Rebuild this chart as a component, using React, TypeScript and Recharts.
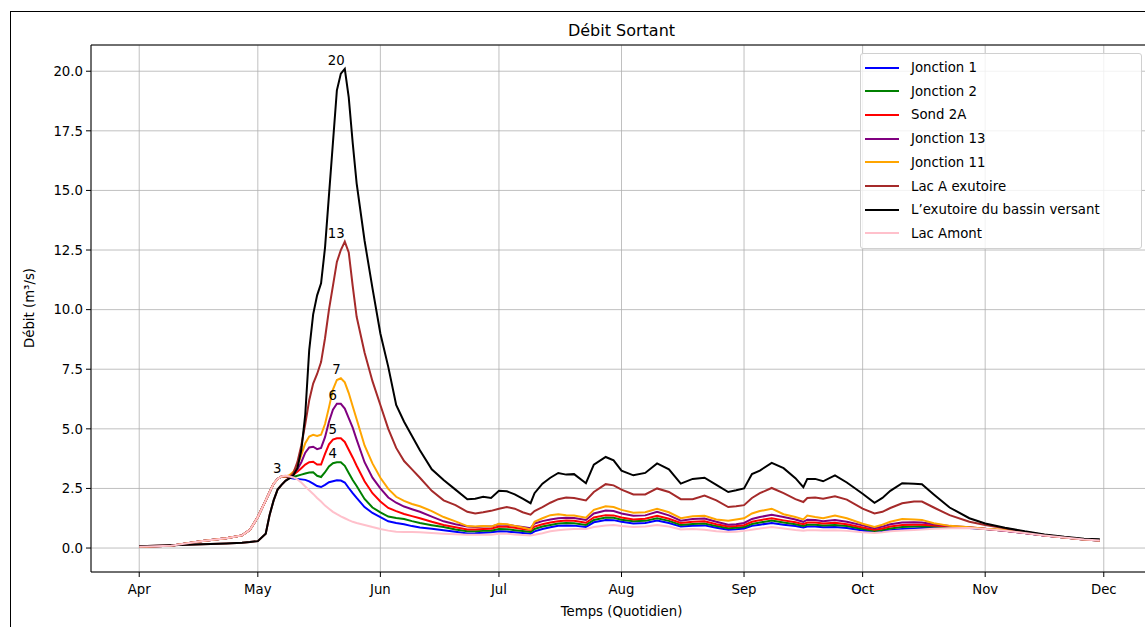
import React from 'react';
import {
  LineChart,
  Line,
  XAxis,
  YAxis,
  CartesianGrid,
  ReferenceLine,
} from 'recharts';

// day index counted from 1 April
const days = [
  0, 8, 16, 22, 26, 28, 30, 32, 33, 34,
  35, 36, 37, 38, 39, 40, 41, 42, 43, 44,
  45, 46, 47, 48, 49, 50, 51, 52, 53, 54,
  55, 57, 59, 61, 63, 65, 67, 69, 71, 74,
  77, 80, 83, 85, 87, 89, 91, 93, 95, 97,
  99, 100, 102, 104, 106, 108, 110, 113, 115, 118,
  120, 122, 125, 128, 131, 134, 137, 140, 143, 146,
  149, 151, 153, 155, 157, 160, 163, 166, 168, 169,
  171, 173, 176, 179, 183, 186, 188, 190, 193, 196,
  198, 201, 205, 210, 214, 219, 224, 229, 234, 239, 243,
];

const jonction1 = [
  0.05, 0.1, 0.3, 0.41, 0.53, 0.76, 1.3, 2.0, 2.35, 2.7,
  2.9, 3.0, 3.0, 2.95, 2.92, 2.9, 2.88, 2.86, 2.8, 2.7,
  2.6, 2.56, 2.65, 2.76, 2.8, 2.84, 2.83, 2.75, 2.52, 2.3,
  2.1, 1.72, 1.47, 1.3, 1.12, 1.05, 1.0, 0.92, 0.86, 0.81,
  0.75, 0.68, 0.61, 0.62, 0.64, 0.66, 0.7, 0.69, 0.66, 0.63,
  0.6, 0.7, 0.8, 0.87, 0.93, 0.95, 0.94, 0.88, 1.08, 1.18,
  1.17, 1.1, 1.03, 1.05, 1.15, 1.05, 0.9, 0.93, 0.95, 0.85,
  0.77, 0.79, 0.82, 0.93, 0.98, 1.05, 0.98, 0.92, 0.86, 0.9,
  0.9, 0.87, 0.88, 0.84, 0.74, 0.67, 0.7, 0.75, 0.8, 0.82,
  0.84, 0.86, 0.85, 0.84, 0.8, 0.73, 0.63, 0.53, 0.44, 0.36, 0.32,
];

const jonction2 = [
  0.05, 0.1, 0.3, 0.41, 0.53, 0.76, 1.3, 2.0, 2.35, 2.7,
  2.9, 3.0, 3.0, 2.97, 2.98, 3.03, 3.08, 3.13, 3.17, 3.18,
  3.03, 2.98, 3.18, 3.42, 3.56, 3.6, 3.6, 3.45, 3.15, 2.85,
  2.6, 2.06, 1.7, 1.5, 1.32, 1.26, 1.22, 1.13, 1.05, 0.96,
  0.88, 0.78, 0.7, 0.7, 0.72, 0.73, 0.8, 0.79, 0.75, 0.71,
  0.67, 0.8, 0.9, 0.97, 1.03, 1.05, 1.04, 0.97, 1.18, 1.28,
  1.27, 1.19, 1.12, 1.14, 1.25, 1.14, 0.97, 1.01, 1.03, 0.92,
  0.83, 0.85, 0.88, 1.01, 1.07, 1.15, 1.07, 1.0, 0.93, 0.98,
  0.98, 0.95, 0.97, 0.92, 0.8, 0.72, 0.76, 0.82, 0.88, 0.9,
  0.91, 0.9, 0.87, 0.85, 0.8, 0.73, 0.63, 0.53, 0.44, 0.36, 0.32,
];

const sond2A = [
  0.05, 0.1, 0.3, 0.41, 0.53, 0.76, 1.3, 2.0, 2.35, 2.7,
  2.9, 3.0, 3.0, 3.0, 3.08, 3.2, 3.35, 3.5, 3.6, 3.62,
  3.5, 3.5, 3.95, 4.35, 4.55, 4.6, 4.6, 4.45, 4.12, 3.8,
  3.45, 2.8, 2.3, 1.95, 1.68, 1.55, 1.43, 1.34, 1.25, 1.1,
  0.97, 0.87, 0.78, 0.78, 0.8, 0.81, 0.9, 0.89, 0.85, 0.8,
  0.76, 0.9, 1.0, 1.07, 1.12, 1.15, 1.14, 1.06, 1.28, 1.38,
  1.37, 1.28, 1.2, 1.23, 1.35, 1.23, 1.05, 1.1, 1.12, 1.0,
  0.9, 0.92, 0.96, 1.1, 1.17, 1.25, 1.16, 1.08, 1.0, 1.07,
  1.07, 1.03, 1.06, 1.0, 0.86, 0.77, 0.82, 0.9, 0.97, 0.98,
  0.98, 0.95, 0.9, 0.86, 0.8, 0.73, 0.63, 0.53, 0.44, 0.36, 0.32,
];

const jonction13 = [
  0.05, 0.1, 0.3, 0.41, 0.53, 0.76, 1.3, 2.0, 2.35, 2.7,
  2.9, 3.0, 3.0, 3.02, 3.15, 3.3, 3.6, 4.0, 4.22, 4.25,
  4.15, 4.2, 4.65, 5.3, 5.8, 6.05, 6.05, 5.85, 5.45, 5.05,
  4.55, 3.6, 2.95, 2.5, 2.12, 1.9, 1.74, 1.63, 1.52, 1.32,
  1.12, 1.0, 0.9, 0.88, 0.9, 0.9, 1.0, 0.98, 0.93, 0.88,
  0.83, 1.03, 1.13, 1.2, 1.25, 1.27, 1.26, 1.18, 1.45, 1.57,
  1.55, 1.45, 1.35, 1.37, 1.52, 1.37, 1.15, 1.22, 1.24, 1.1,
  0.98, 1.0, 1.05, 1.22, 1.3, 1.4, 1.3, 1.2, 1.1, 1.19,
  1.18, 1.12, 1.18, 1.1, 0.95, 0.83, 0.9, 1.0, 1.07, 1.08,
  1.07, 1.0, 0.92, 0.87, 0.81, 0.73, 0.63, 0.53, 0.44, 0.36, 0.32,
];

const jonction11 = [
  0.05, 0.1, 0.3, 0.41, 0.53, 0.76, 1.3, 2.0, 2.35, 2.7,
  2.9, 3.0, 3.0, 3.05, 3.2, 3.45, 3.9, 4.4, 4.68, 4.75,
  4.7, 4.75, 5.2, 5.9, 6.65, 7.05, 7.12, 6.95, 6.5, 5.95,
  5.4, 4.3, 3.55, 2.95, 2.48, 2.15, 1.98, 1.85, 1.75, 1.55,
  1.3, 1.12, 0.92, 0.9, 0.92, 0.9, 1.02, 1.0, 0.93, 0.86,
  0.78, 1.1, 1.25, 1.38, 1.42, 1.38, 1.36, 1.27, 1.6, 1.75,
  1.72, 1.6, 1.48, 1.5, 1.65, 1.5, 1.25, 1.33, 1.35, 1.2,
  1.15, 1.2, 1.25, 1.45, 1.55, 1.65, 1.42, 1.3, 1.2, 1.36,
  1.3, 1.25, 1.36, 1.25, 1.02, 0.88, 0.98, 1.1, 1.22, 1.2,
  1.18, 1.04, 0.93, 0.87, 0.81, 0.77, 0.65, 0.54, 0.44, 0.36, 0.32,
];

const lacAExutoire = [
  0.07, 0.12, 0.16, 0.19, 0.22, 0.25, 0.29, 0.6, 1.4, 2.0,
  2.45, 2.65, 2.82, 2.95, 3.15, 3.6, 4.3, 5.2, 6.2, 6.9,
  7.3, 7.8, 8.8, 10.0, 11.0, 12.0, 12.5, 12.85, 12.4, 11.0,
  9.7, 8.2, 7.0, 6.0, 5.0, 4.2, 3.65, 3.3, 2.95, 2.4,
  2.0, 1.8, 1.52, 1.45, 1.5, 1.56, 1.65, 1.72, 1.65, 1.5,
  1.4, 1.55, 1.72, 1.9, 2.05, 2.12, 2.1, 2.0, 2.35, 2.68,
  2.63, 2.45, 2.25, 2.25, 2.5, 2.35, 2.05, 2.05, 2.2, 2.0,
  1.72, 1.75, 1.8, 2.1, 2.3, 2.52, 2.3, 2.05, 1.93, 2.1,
  2.12, 2.07, 2.17, 2.03, 1.65, 1.45, 1.52, 1.68, 1.88, 1.95,
  1.95, 1.7, 1.38, 1.1, 0.97, 0.83, 0.68, 0.55, 0.45, 0.37, 0.34,
];

const exutoireBassin = [
  0.07, 0.12, 0.16, 0.19, 0.22, 0.25, 0.29, 0.6, 1.4, 2.0,
  2.45, 2.65, 2.82, 2.92, 3.05, 3.35, 4.1, 5.6, 8.3, 9.8,
  10.6, 11.1, 12.6, 14.8, 17.0, 19.2, 19.9, 20.1, 18.9, 17.0,
  15.3, 12.9, 10.9, 9.0, 7.6, 6.0, 5.3, 4.7, 4.1, 3.3,
  2.85, 2.45, 2.05, 2.07, 2.15, 2.1, 2.4, 2.38, 2.25, 2.07,
  1.88, 2.3, 2.7, 2.95, 3.15, 3.08, 3.1, 2.72, 3.5, 3.82,
  3.68, 3.25, 3.05, 3.15, 3.55, 3.3, 2.7, 2.9, 2.95, 2.65,
  2.35, 2.42, 2.5, 3.1, 3.25, 3.57, 3.35, 2.93, 2.55, 2.9,
  2.9, 2.8, 3.05, 2.75, 2.28, 1.9, 2.1, 2.4, 2.72, 2.7,
  2.68, 2.25, 1.7, 1.25, 1.03, 0.85, 0.7, 0.57, 0.47, 0.39, 0.37,
];

const lacAmont = [
  0.05, 0.1, 0.3, 0.41, 0.53, 0.76, 1.3, 2.0, 2.35, 2.7,
  2.9, 3.0, 3.04, 3.0, 2.96, 2.88, 2.75, 2.58, 2.42, 2.27,
  2.1, 1.95, 1.78, 1.65, 1.52, 1.42, 1.33, 1.25, 1.17, 1.1,
  1.05, 0.97, 0.88, 0.8, 0.73, 0.68, 0.67, 0.67, 0.66, 0.63,
  0.6, 0.58, 0.56, 0.56, 0.56, 0.56, 0.6, 0.6, 0.57, 0.55,
  0.53, 0.56, 0.62, 0.7, 0.75, 0.78, 0.8, 0.8, 0.88, 0.95,
  0.97, 0.92, 0.88, 0.9, 0.97, 0.9, 0.78, 0.8, 0.77, 0.7,
  0.67, 0.68, 0.72, 0.77, 0.82, 0.88, 0.82, 0.76, 0.73, 0.75,
  0.75, 0.74, 0.75, 0.72, 0.66, 0.63, 0.66, 0.7, 0.74, 0.76,
  0.78, 0.81, 0.83, 0.84, 0.8, 0.73, 0.63, 0.53, 0.44, 0.36, 0.32,
];

const monthTicks = [0, 30, 61, 91, 122, 153, 183, 214, 244];
const monthLabels = ['Apr', 'May', 'Jun', 'Jul', 'Aug', 'Sep', 'Oct', 'Nov', 'Dec'];
const yTicks = [0, 2.5, 5, 7.5, 10, 12.5, 15, 17.5, 20];

const series = [
  { key: 'j1', name: 'Jonction 1', color: '#0000ff', values: jonction1, peak: true },
  { key: 'j2', name: 'Jonction 2', color: '#008000', values: jonction2, peak: true },
  { key: 's2a', name: 'Sond 2A', color: '#ff0000', values: sond2A, peak: true },
  { key: 'j13', name: 'Jonction 13', color: '#800080', values: jonction13, peak: true },
  { key: 'j11', name: 'Jonction 11', color: '#ffa500', values: jonction11, peak: true },
  { key: 'lacA', name: 'Lac A exutoire', color: '#a52a2a', values: lacAExutoire, peak: true },
  { key: 'bv', name: 'L\u2019exutoire du bassin versant', color: '#000000', values: exutoireBassin, peak: true },
  { key: 'amont', name: 'Lac Amont', color: '#ffc0cb', values: lacAmont, peak: false },
];

const data = days.map((d, i) => {
  const row: Record<string, number> = { day: d };
  series.forEach((s) => {
    row[s.key] = s.values[i];
  });
  return row;
});

const FONT = '"DejaVu Sans", sans-serif';
const X_MIN = -12.2;
const X_MAX = 256.2;
const Y_MIN = -1.005;
const Y_MAX = 21.1;

function peakIndex(vals: number[]) {
  let k = 0;
  vals.forEach((v, i) => {
    if (v > vals[k]) k = i;
  });
  return k;
}

function peakLabel(vals: number[]) {
  const k = peakIndex(vals);
  return (props: any) => {
    if (props.index !== k) return null;
    const x = props.viewBox?.x ?? props.x;
    const y = props.viewBox?.y ?? props.y;
    return (
      <text
        key={`peak-${k}`}
        x={x}
        y={y - 4}
        textAnchor="end"
        fontSize={13.3}
        fontFamily={FONT}
        fill="#000"
      >
        {Math.round(vals[k])}
      </text>
    );
  };
}

function ChartLegend() {
  return (
    <div
      style={{
        position: 'absolute',
        left: 860,
        top: 53,
        width: 280,
        height: 194,
        border: '1px solid #d0d0d0',
        borderRadius: 3,
        background: 'rgba(255,255,255,0.8)',
        fontFamily: FONT,
        fontSize: 13.3,
        color: '#000',
      }}
    >
      {series.map((s, i) => (
        <div
          key={s.key}
          style={{
            position: 'absolute',
            left: 4,
            top: 2 + i * 23.7,
            height: 23,
            display: 'flex',
            alignItems: 'center',
            whiteSpace: 'nowrap',
          }}
        >
          <span
            style={{
              display: 'inline-block',
              width: 34,
              height: 2,
              background: s.color,
              marginRight: 12,
            }}
          />
          <span>{s.name}</span>
        </div>
      ))}
    </div>
  );
}

export default function App() {
  return (
    <div
      style={{
        position: 'fixed',
        left: 0,
        top: 0,
        width: 1145,
        height: 627,
        overflow: 'hidden',
        background: '#fff',
        fontFamily: FONT,
      }}
    >
      <div
        style={{
          position: 'absolute',
          left: 10,
          top: 11,
          width: 1300,
          height: 800,
          border: '1px solid #000',
        }}
      />
      <div style={{ position: 'absolute', left: 0, top: 0 }}>
        <LineChart
          width={1160}
          height={627}
          data={data}
          margin={{ top: 45, right: 8, left: 41, bottom: 25 }}
        >
          <CartesianGrid stroke="#b0b0b0" strokeWidth={0.8} />
          <XAxis
            dataKey="day"
            type="number"
            domain={[X_MIN, X_MAX]}
            ticks={monthTicks}
            tickFormatter={(v: number) => monthLabels[monthTicks.indexOf(v)] ?? ''}
            allowDataOverflow
            height={30}
            tickSize={5}
            tickMargin={8}
            axisLine={{ stroke: '#000', strokeWidth: 1 }}
            tickLine={{ stroke: '#000' }}
            tick={{ fill: '#000', fontSize: 13.3, fontFamily: FONT }}
          />
          <YAxis
            type="number"
            domain={[Y_MIN, Y_MAX]}
            ticks={yTicks}
            tickFormatter={(v: number) => v.toFixed(1)}
            allowDataOverflow
            width={50}
            tickSize={5}
            tickMargin={3}
            axisLine={{ stroke: '#000', strokeWidth: 1 }}
            tickLine={{ stroke: '#000' }}
            tick={{ fill: '#000', fontSize: 13.3, fontFamily: FONT }}
          />
          <ReferenceLine y={Y_MAX} stroke="#000" strokeWidth={1} ifOverflow="visible" />
          {series.map((s) => (
            <Line
              key={s.key}
              type="linear"
              dataKey={s.key}
              name={s.name}
              stroke={s.color}
              strokeWidth={2}
              dot={false}
              activeDot={false}
              isAnimationActive={false}
              label={s.peak ? peakLabel(s.values) : undefined}
            />
          ))}
        </LineChart>
      </div>
      <div
        style={{
          position: 'absolute',
          left: 91,
          width: 1061,
          top: 21,
          textAlign: 'center',
          fontSize: 16,
          color: '#000',
        }}
      >
        Débit Sortant
      </div>
      <div
        style={{
          position: 'absolute',
          left: 91,
          width: 1061,
          top: 604,
          textAlign: 'center',
          fontSize: 13.3,
          color: '#000',
        }}
      >
        Temps (Quotidien)
      </div>
      <div
        style={{
          position: 'absolute',
          left: 29,
          top: 308,
          transform: 'translate(-50%, -50%) rotate(-90deg)',
          fontSize: 13.3,
          color: '#000',
          whiteSpace: 'nowrap',
        }}
      >
        Débit (m³/s)
      </div>
      <ChartLegend />
    </div>
  );
}
